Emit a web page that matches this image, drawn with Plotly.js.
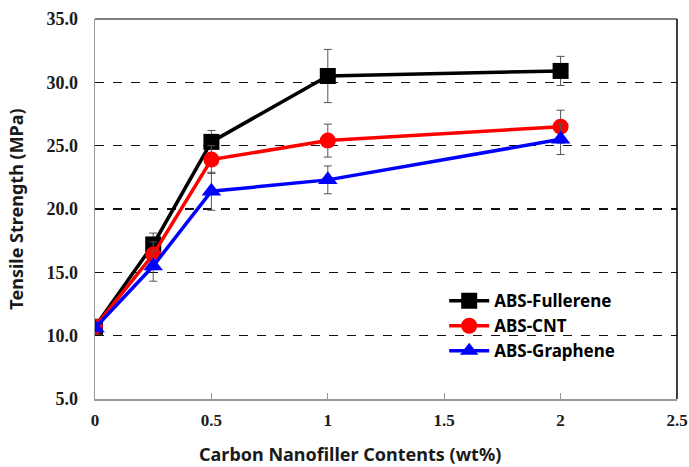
<!DOCTYPE html>
<html>
<head>
<meta charset="utf-8">
<script src="https://cdn.plot.ly/plotly-3.0.1.min.js"></script>
<style>html,body{margin:0;padding:0;background:#fff;}#chart{width:689px;height:467px;}</style>
</head>
<body>
<div id="chart"></div>
<script>
const contents = [0, 0.25, 0.5, 1, 2];
const seriesNames = ["ABS-Fullerene", "ABS-CNT", "ABS-Graphene"];
const fullerene = [10.7, 17.2, 25.3, 30.5, 30.9];
const fullereneErr = [0.2, 0.9, 0.9, 2.1, 1.15];
const cnt = [10.7, 16.4, 23.9, 25.4, 26.5];
const cntErr = [0.2, 1.0, 1.1, 1.3, 1.3];
const graphene = [10.6, 15.5, 21.4, 22.3, 25.5];
const grapheneErr = [0.2, 1.2, 1.5, 1.1, 1.2];
const xTicks = [0, 0.5, 1, 1.5, 2, 2.5];
const yTicks = [5, 10, 15, 20, 25, 30, 35];
const xTitle = "Carbon Nanofiller Contents (wt%)";
const yTitle = "Tensile Strength (MPa)";

const colors = ["#000000", "#ff0000", "#0000ff"];
const symbols = ["square", "circle", "triangle-up"];
const values = [fullerene, cnt, graphene];
const errs = [fullereneErr, cntErr, grapheneErr];

const traces = values.map((v, i) => ({
  x: contents, y: v, name: seriesNames[i], type: "scatter", mode: "lines+markers",
  line: {color: colors[i], width: 3.5},
  marker: {symbol: symbols[i], color: colors[i], size: i === 2 ? 17 : 16, line: {width: 0}},
  error_y: {type: "data", array: errs[i], visible: true, color: "#555555", thickness: 1, width: 4}
}));

const sans = "Noto Sans, Open Sans, sans-serif";
const serif = "Liberation Serif, Times New Roman, serif";

const layout = {
  width: 689, height: 467,
  margin: {l: 95, r: 12, t: 19, b: 68},
  paper_bgcolor: "#fff", plot_bgcolor: "#fff",
  showlegend: true,
  legend: {x: 0.6, y: 0.305, xanchor: "left", yanchor: "top", bgcolor: "rgba(0,0,0,0)",
           font: {family: sans, size: 17, color: "#000", weight: "bold"}, tracegroupgap: 0, itemwidth: 40},
  xaxis: {
    range: [0, 2.5], tickvals: xTicks, ticktext: xTicks.map(String),
    showgrid: false, zeroline: false, showline: true, linecolor: "#999", linewidth: 1.5,
    ticks: "inside", ticklen: 6, tickcolor: "#999", tickwidth: 1,
    tickfont: {family: serif, size: 17, color: "#1a1a1a", weight: "bold"},
    ticklabelstandoff: 5, ticklabeloverflow: "allow"
  },
  yaxis: {
    range: [5, 35], tickvals: yTicks, tickformat: ".1f",
    showgrid: true, gridcolor: "#111", griddash: "dash", gridwidth: 1.3,
    zeroline: false, showline: true, linecolor: "#999", linewidth: 1.5,
    ticks: "", tickfont: {family: serif, size: 18, color: "#1a1a1a", weight: "bold"},
    ticklabelstandoff: 12,
    title: {text: yTitle, font: {family: sans, size: 18, color: "#1a1a1a", weight: "bold"}, standoff: 18}
  },
  annotations: [
    {text: xTitle, xref: "paper", yref: "paper", x: 0.439, y: -0.145, xanchor: "center", yanchor: "middle",
     borderpad: 0, showarrow: false, font: {family: sans, size: 18, color: "#1a1a1a", weight: "bold"}}
  ],
  shapes: [
    {type: "line", xref: "paper", yref: "paper", x0: 0, x1: 1, y0: 1, y1: 1, line: {color: "#555", width: 1.5}},
    {type: "line", xref: "paper", yref: "paper", x0: 1, x1: 1, y0: 0, y1: 1, line: {color: "#000", width: 1.5}}
  ]
};

Plotly.newPlot("chart", traces, layout, {displayModeBar: false, staticPlot: true});
</script>
</body>
</html>
